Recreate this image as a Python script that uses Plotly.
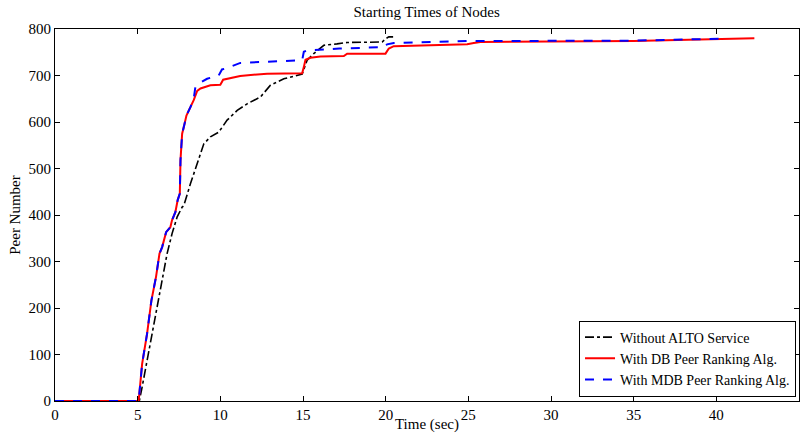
import plotly.graph_objects as go

# Without ALTO Service
t_alto = [0, 5.1, 5.27, 5.57, 5.87, 6.18, 6.48, 6.78, 7.08, 7.39, 7.69, 7.79, 8.19, 8.6, 9.0, 9.4, 9.9,
          10.41, 11.02, 11.62, 12.43, 13.03, 13.84, 14.95, 15.25, 15.65, 16.26, 17.06, 17.67, 19.79,
          19.99, 20.19, 20.45]
p_alto = [0, 0, 30, 88, 145, 202, 260, 317, 360, 396, 417, 420, 467, 510, 553, 568, 578,
          604, 625, 639, 654, 679, 693, 703, 733, 747, 765, 768, 771, 772,
          779, 783, 783]

# With DB Peer Ranking Alg.
t_db = [0, 5.06, 5.27, 5.57, 5.83, 6.11, 6.32, 6.48, 6.72, 6.98, 7.08, 7.28, 7.42, 7.55, 7.59, 7.69,
        7.79, 7.95, 8.19, 8.39, 8.6, 8.8, 9.4, 10.0, 10.17, 10.41, 10.81, 11.2, 12.83, 14.95,
        15.05, 15.15, 15.45, 16.05, 17.47, 17.67, 19.99, 20.19, 20.49, 24.93, 25.33, 25.73,
        35.01, 39.85, 42.3]
p_db = [0, 0, 80, 145, 216, 267, 317, 331, 363, 374, 389, 406, 432, 446, 518, 575,
        589, 614, 632, 647, 667, 672, 679, 680, 691, 693, 695, 699, 704, 705,
        718, 734, 738, 741, 742, 747, 747, 758, 763, 767, 770, 772,
        774, 777, 780]

# With MDB Peer Ranking Alg.
t_mdb = [0, 5.06, 5.27, 5.57, 5.83, 6.11, 6.32, 6.48, 6.72, 6.98, 7.08, 7.28, 7.42, 7.55, 7.59, 7.69,
         7.79, 7.95, 8.19, 8.39, 8.49, 8.75, 9.2, 9.9, 10.1, 10.41, 11.21, 12.2, 14.95,
         15.05, 15.25, 16.26, 17.2, 19.89, 20.09, 20.49, 24.9, 35.0, 40.15]
p_mdb = [0, 0, 80, 145, 216, 267, 317, 331, 363, 374, 389, 406, 432, 446, 518, 575,
         589, 614, 632, 650, 675, 684, 693, 700, 713, 716, 727, 729, 733,
         751, 754, 756, 758, 761, 767, 770, 774, 775, 779]

x_ticks = [0, 5, 10, 15, 20, 25, 30, 35, 40, 45]
y_ticks = [0, 100, 200, 300, 400, 500, 600, 700, 800]

FONT = "Liberation Serif"
FS = 15

fig = go.Figure()
fig.add_trace(go.Scatter(x=t_alto, y=p_alto, mode="lines", name="Without ALTO Service",
                         line=dict(color="black", width=1.6, dash="dashdot")))
fig.add_trace(go.Scatter(x=t_db, y=p_db, mode="lines", name="With DB Peer Ranking Alg.",
                         line=dict(color="#ff0000", width=2)))
fig.add_trace(go.Scatter(x=t_mdb, y=p_mdb, mode="lines", name="With MDB Peer Ranking Alg.",
                         line=dict(color="#0000ff", width=2, dash="dash")))

fig.update_layout(
    width=802, height=433,
    margin=dict(l=55, r=3, t=29, b=32, autoexpand=False),
    paper_bgcolor="white", plot_bgcolor="white",
    font=dict(family=FONT, size=FS, color="black"),
    title=dict(text="Starting Times of Nodes", x=0.532, xanchor="center", y=0.972, yanchor="middle",
               font=dict(family=FONT, size=FS, color="black")),
    showlegend=True,
    legend=dict(x=0.996, y=0.012, xanchor="right", yanchor="bottom",
                bgcolor="white", bordercolor="black", borderwidth=1,
                font=dict(family=FONT, size=14), tracegroupgap=0,
                itemwidth=30),
)
fig.update_xaxes(range=[0, 45], tickvals=x_ticks, ticks="inside", ticklen=5, tickcolor="black",
                 showline=True, linecolor="black", linewidth=1, mirror="ticks",
                 showgrid=False, zeroline=False, automargin=False,
                 title=dict(text="Time (sec)", standoff=0, font=dict(family=FONT, size=FS)),
                 tickfont=dict(family=FONT, size=FS))
fig.update_yaxes(range=[0, 800], tickvals=y_ticks, ticks="inside", ticklen=5, tickcolor="black",
                 showline=True, linecolor="black", linewidth=1, mirror="ticks",
                 showgrid=False, zeroline=False, automargin=False,
                 title=dict(text="Peer Number", standoff=4, font=dict(family=FONT, size=FS)),
                 tickfont=dict(family=FONT, size=FS))

fig.write_html("out.html", config={"displayModeBar": False},
               post_script="document.body.style.margin='0';")
